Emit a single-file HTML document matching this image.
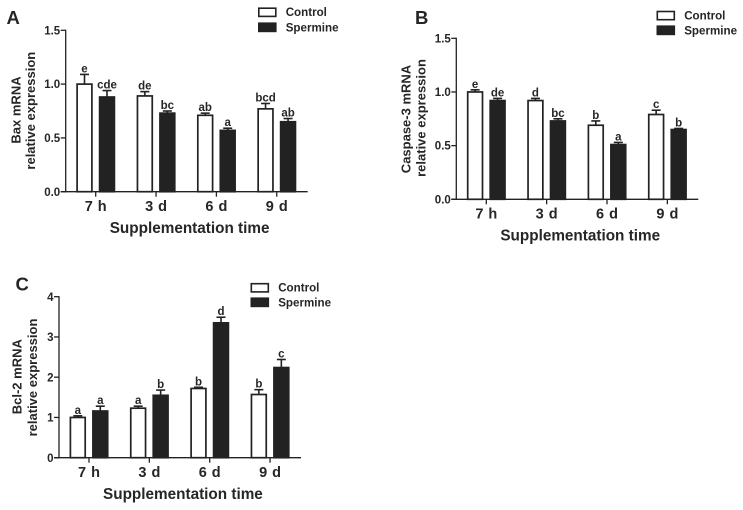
<!DOCTYPE html>
<html>
<head>
<meta charset="utf-8">
<style>
html,body{margin:0;padding:0;background:#fff;width:743px;height:510px;overflow:hidden}
svg{display:block;filter:blur(0.35px)}
text{font-family:"Liberation Sans",sans-serif;font-weight:bold;fill:#262626}
</style>
</head>
<body>
<svg id="figure" width="743" height="510" viewBox="0 0 743 510" xmlns="http://www.w3.org/2000/svg"></svg>
<script>
const categories = ["7 h", "3 d", "6 d", "9 d"];
const seriesNames = ["Control", "Spermine"];

const baxControl = [1.0, 0.89, 0.71, 0.77];
const baxControlErr = [0.09, 0.04, 0.02, 0.05];
const baxSpermine = [0.88, 0.73, 0.57, 0.65];
const baxSpermineErr = [0.06, 0.02, 0.02, 0.03];
const baxControlLetters = ["e", "de", "ab", "bcd"];
const baxSpermineLetters = ["cde", "bc", "a", "ab"];
const baxTicks = ["0.0", "0.5", "1.0", "1.5"];

const caspControl = [1.0, 0.92, 0.69, 0.79];
const caspControlErr = [0.02, 0.02, 0.04, 0.04];
const caspSpermine = [0.92, 0.73, 0.51, 0.65];
const caspSpermineErr = [0.02, 0.02, 0.02, 0.01];
const caspControlLetters = ["e", "d", "b", "c"];
const caspSpermineLetters = ["de", "bc", "a", "b"];
const caspTicks = ["0.0", "0.5", "1.0", "1.5"];

const bclControl = [1.0, 1.23, 1.72, 1.57];
const bclControlErr = [0.04, 0.05, 0.03, 0.12];
const bclSpermine = [1.16, 1.55, 3.35, 2.24];
const bclSpermineErr = [0.12, 0.13, 0.14, 0.2];
const bclControlLetters = ["a", "a", "b", "b"];
const bclSpermineLetters = ["a", "b", "d", "c"];
const bclTicks = ["0", "1", "2", "3", "4"];

const svg = document.getElementById('figure');
const INK = '#222';

function make(tag, parent, attrs, content) {
  const el = document.createElementNS('http://www.w3.org/2000/svg', tag);
  for (const k in attrs) el.setAttribute(k, attrs[k]);
  if (content !== undefined) el.textContent = content;
  parent.appendChild(el);
  return el;
}

function drawPanel(p) {
  const g = make('g', svg, {});
  
  

  const tickVals = p.ticks.map(Number);
  const yMax = tickVals[tickVals.length - 1];
  const yScale = v => p.y0 - (v / yMax) * (p.y0 - p.yTop);
  const xCenter = i => p.firstTick + i * p.tickStep;

  const title = make('text', g, {x: p.letterX, y: p.letterY, 'font-size': 18.5}, p.letter);
  
  

  // bars, error bars, significance letters
  [[p.control, p.controlErr, p.controlLetters, -11.2, 'control'],
   [p.spermine, p.spermineErr, p.spermineLetters, 11.3, 'spermine']].forEach(function (s) {
    s[0].forEach(function (val, i) {
      const cx = xCenter(i) + s[3];
      const top = yScale(val);
      const errTop = yScale(val + s[1][i]);

      const stem = make('line', g, {x1: cx, x2: cx, y1: top, y2: errTop, stroke: INK, 'stroke-width': 1.6});
      
      

      const cap = make('line', g, {x1: cx - 4.5, x2: cx + 4.5, y1: errTop, y2: errTop, stroke: INK, 'stroke-width': 1.6});
      
      

      const filled = s[4] === 'spermine';
      const bar = make('rect', g, {
        x: cx - 7.4, y: top, width: 14.8, height: p.y0 - top,
        fill: filled ? INK : '#fff', stroke: INK, 'stroke-width': 1.7
      });
      
      

      const letter = make('text', g, {x: cx, y: errTop - 2, 'font-size': 11.5, 'text-anchor': 'middle'}, s[2][i]);
      
      
    });
  });

  // axes
  const yAxis = make('line', g, {x1: p.axisX, x2: p.axisX, y1: p.yTop - 0.6, y2: p.y0 + 0.6, stroke: INK, 'stroke-width': 1.3});
  
  

  const xAxis = make('line', g, {x1: p.axisX - 5, x2: p.axisEnd, y1: p.y0, y2: p.y0, stroke: INK, 'stroke-width': 1.3});
  
  

  p.ticks.forEach(function (t) {
    const y = yScale(Number(t));
    const mark = make('line', g, {x1: p.axisX - 5, x2: p.axisX, y1: y, y2: y, stroke: INK, 'stroke-width': 1.3});
    
    

    const label = make('text', g, {x: p.axisX - 5.5, y: y + 4.1, 'font-size': 11.5, 'text-anchor': 'end'}, t);
    
    
  });

  categories.forEach(function (c, i) {
    const x = xCenter(i);
    const mark = make('line', g, {x1: x, x2: x, y1: p.y0, y2: p.y0 + 5, stroke: INK, 'stroke-width': 1.3});
    
    

    const label = make('text', g, {x: x, y: p.y0 + 19.2, 'font-size': 14.5, 'text-anchor': 'middle', style: 'word-spacing:1px'}, c);
    
    
  });

  const xTitle = make('text', g, {x: p.firstTick + 1.5 * p.tickStep + 3.4, y: p.y0 + 41.3, 'font-size': 15.3, 'text-anchor': 'middle'}, 'Supplementation time');
  
  

  const yTitle1 = make('text', g, {
    transform: 'translate(' + p.yt1X + ',' + p.yt1Y + ') rotate(-90)',
    'font-size': 13, 'text-anchor': 'middle', 'font-weight': 'bold'
  }, p.geneLabel);
  
  

  const yTitle2 = make('text', g, {
    transform: 'translate(' + p.yt2X + ',' + p.yt2Y + ') rotate(-90)',
    'font-size': 13, 'text-anchor': 'middle'
  }, 'relative expression');
  
  

  // legend
  seriesNames.forEach(function (name, i) {
    const by = i === 0 ? p.legBox1 : p.legBox2;
    const swatch = make('rect', g, {
      x: p.legX + 0.8, y: by, width: 17, height: 8.2,
      fill: i === 0 ? '#fff' : INK, stroke: INK, 'stroke-width': 1.6
    });
    
    

    const text = make('text', g, {x: p.legX + 27.7, y: by + (i === 0 ? 8 : 8.2), 'font-size': 11.6}, name);
    
    
  });
}

drawPanel({
  letter: 'A', letterX: 6.5, letterY: 24,
  geneLabel: 'Bax mRNA',
  control: baxControl, controlErr: baxControlErr, controlLetters: baxControlLetters,
  spermine: baxSpermine, spermineErr: baxSpermineErr, spermineLetters: baxSpermineLetters,
  ticks: baxTicks,
  axisX: 65.7, axisEnd: 307.7, y0: 191.7, yTop: 30.3, firstTick: 95.7, tickStep: 60.35,
  yt1X: 20.5, yt1Y: 110, yt2X: 35, yt2Y: 110.7,
  legX: 258, legBox1: 8.2, legBox2: 23.2
});

drawPanel({
  letter: 'B', letterX: 415, letterY: 24,
  geneLabel: 'Caspase-3 mRNA',
  control: caspControl, controlErr: caspControlErr, controlLetters: caspControlLetters,
  spermine: caspSpermine, spermineErr: caspSpermineErr, spermineLetters: caspSpermineLetters,
  ticks: caspTicks,
  axisX: 456.3, axisEnd: 698.3, y0: 199.3, yTop: 38.3, firstTick: 486.3, tickStep: 60.35,
  yt1X: 410.7, yt1Y: 119, yt2X: 425.5, yt2Y: 118,
  legX: 656.5, legBox1: 11.5, legBox2: 26.2
});

drawPanel({
  letter: 'C', letterX: 15.5, letterY: 290.7,
  geneLabel: 'Bcl-2 mRNA',
  control: bclControl, controlErr: bclControlErr, controlLetters: bclControlLetters,
  spermine: bclSpermine, spermineErr: bclSpermineErr, spermineLetters: bclSpermineLetters,
  ticks: bclTicks,
  axisX: 59, axisEnd: 301, y0: 457.7, yTop: 296.7, firstTick: 89, tickStep: 60.35,
  yt1X: 21.7, yt1Y: 376.7, yt2X: 37, yt2Y: 377.5,
  legX: 250.5, legBox1: 283.7, legBox2: 298.2
});
</script>
</body>
</html>
